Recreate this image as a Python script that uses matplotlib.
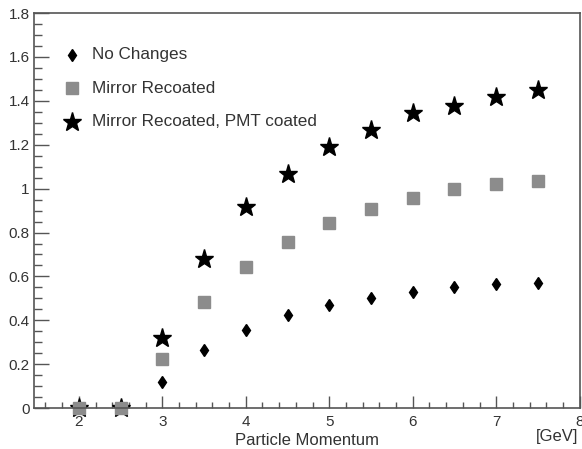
import numpy as np
import matplotlib
matplotlib.use("Agg")
import matplotlib.pyplot as plt
from matplotlib.ticker import MultipleLocator

momentum = [2, 2.5, 3, 3.5, 4, 4.5, 5, 5.5, 6, 6.5, 7, 7.5]
no_changes = [0, 0, 0.118, 0.264, 0.356, 0.424, 0.469, 0.501, 0.529, 0.551, 0.565, 0.572]
mirror_recoated = [0, 0, 0.223, 0.483, 0.643, 0.757, 0.843, 0.907, 0.957, 0.998, 1.021, 1.035]
pmt_coated = [0, 0, 0.32, 0.68, 0.916, 1.067, 1.19, 1.267, 1.345, 1.376, 1.417, 1.449]
labels = ['No Changes', 'Mirror Recoated', 'Mirror Recoated, PMT coated']

plt.rcParams['font.family'] = ['Liberation Sans', 'DejaVu Sans']
txt = '#333333'
gray = '#8c8c8c'

fig = plt.figure(figsize=(5.82, 4.49), dpi=100)
ax = fig.add_axes([0.058, 0.091, 0.938, 0.88])

ax.plot(momentum, no_changes, linestyle='none', marker='d', color='black', markersize=6, clip_on=False)
ax.plot(momentum, pmt_coated, linestyle='none', marker='*', color='black', markersize=14, clip_on=False)
ax.plot(momentum, mirror_recoated, linestyle='none', marker='s', color=gray, markersize=8.5, clip_on=False)

ax.set_xlim(1.46, 8)
ax.set_ylim(0, 1.8)
ax.xaxis.set_major_locator(MultipleLocator(1))
ax.xaxis.set_minor_locator(MultipleLocator(0.2))
ax.yaxis.set_minor_locator(MultipleLocator(0.05))
ax.set_yticks(np.arange(0, 1.81, 0.2))
ax.set_yticklabels(['0', '0.2', '0.4', '0.6', '0.8', '1', '1.2', '1.4', '1.6', '1.8'])
ax.tick_params(which='both', direction='in', width=1, color='#555555', labelsize=11, labelcolor=txt)
ax.tick_params(axis='x', which='major', length=9, pad=5)
ax.tick_params(axis='x', which='minor', length=4.5)
ax.tick_params(axis='y', which='major', length=11, pad=3)
ax.tick_params(axis='y', which='minor', length=6)
for s in ax.spines.values():
    s.set_color('#555555')
    s.set_linewidth(1.2)

ax.set_xlabel('Particle Momentum', fontsize=12, color=txt, labelpad=3)
fig.text(578 / 582, 1 - 437 / 449, '[GeV]', ha='right', va='center', fontsize=12, color=txt)

# legend, drawn by hand like the ROOT one
leg_y = [1.609, 1.458, 1.304]
ax.plot([1.916], [leg_y[0]], linestyle='none', marker='d', color='black', markersize=6)
ax.plot([1.916], [leg_y[1]], linestyle='none', marker='s', color=gray, markersize=8.5)
ax.plot([1.916], [leg_y[2]], linestyle='none', marker='*', color='black', markersize=14)
for yy, lab in zip(leg_y, labels):
    ax.text(2.156, yy, lab, fontsize=12.3, color=txt, va='center')

fig.savefig('out.png', dpi=100)
